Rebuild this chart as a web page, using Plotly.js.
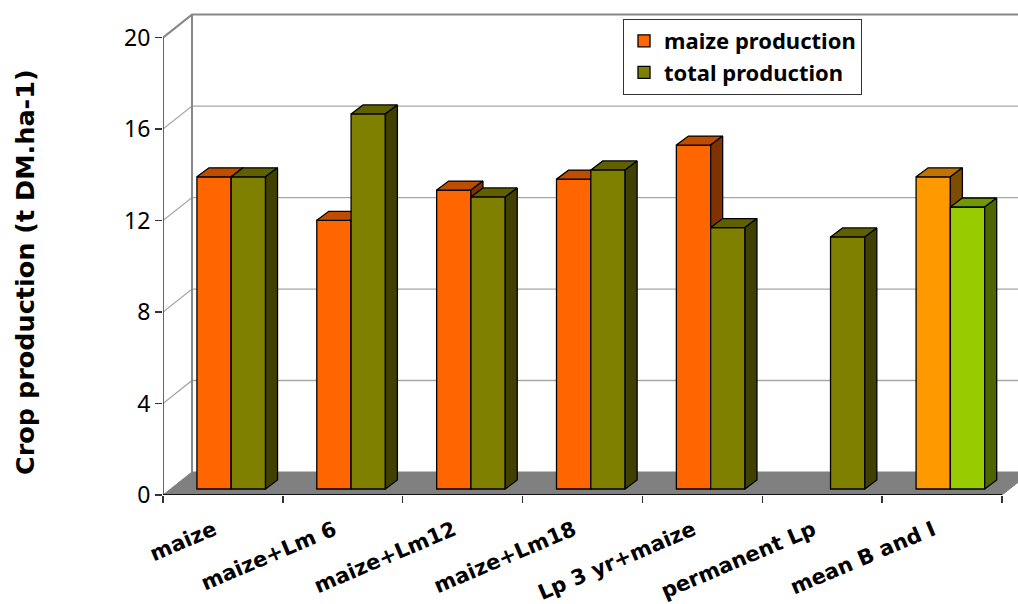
<!DOCTYPE html>
<html><head><meta charset="utf-8">
<script src="https://cdn.plot.ly/plotly-3.0.1.min.js"></script>
<style>html,body{margin:0;padding:0;background:#fff}#c{width:1018px;height:604px}</style>
</head><body><div id="c"></div>
<script>
const categories = ["maize","maize+Lm 6","maize+Lm12","maize+Lm18","Lp 3 yr+maize","permanent Lp","mean B and I"];
const maizeProduction = [13.65,11.75,13.07,13.55,15.04,null,13.65];
const totalProduction = [13.65,16.4,12.77,13.95,11.43,11.02,12.33];
const yTicks = [0,4,8,12,16,20];

const maizeFront = ["#FF6600","#FF6600","#FF6600","#FF6600","#FF6600","#FF6600","#FF9900"];
const maizeTop   = ["#BF4D00","#BF4D00","#BF4D00","#BF4D00","#BF4D00","#BF4D00","#BF7300"];
const maizeSide  = ["#803300","#803300","#803300","#803300","#803300","#803300","#804D00"];
const totalFront = ["#808000","#808000","#808000","#808000","#808000","#808000","#99CC00"];
const totalTop   = ["#606000","#606000","#606000","#606000","#606000","#606000","#739900"];
const totalSide  = ["#404000","#404000","#404000","#404000","#404000","#404000","#4D6600"];

// pixel scale of the axes
const pxX = 119.86, pxY = 22.87;
const plotL = 163, plotR = 1018, plotT = 12, plotB = 495;
const xMin = -0.5, xMax = xMin + (plotR-plotL)/pxX, yMax = (plotB-plotT)/pxY;
const barW = 34.3/pxX, depX = 12/pxX, depY = 9/pxY, wallX = 29/pxX, wallY = 23/pxY;
const barShiftX = 8.3/pxX, barShiftY = 6/pxY;
const xs = categories.map((_,i)=>i);

const traces = [];
function poly(x,y,fill,line,w,extra){return Object.assign({type:"scatter",mode:"lines",x,y,fill:fill?"toself":"none",fillcolor:fill||undefined,line:{color:line,width:w},showlegend:false,hoverinfo:"skip",cliponaxis:true},extra||{});}
yTicks.slice(1).forEach(v=>{
  const top = v===20;
  traces.push(poly([xMin,xMin+wallX,6.5+wallX],[v,v+wallY,v+wallY],null,top?"#888888":"#A6A6A6",top?2:1.3));
});
traces.push(poly([xMin+wallX,xMin+wallX],[wallY,20+wallY],null,"#888888",2));
traces.push(poly([xMin,6.5,6.5+wallX,xMin+wallX,xMin],[0,0,wallY,wallY,0],"#808080","#808080",1));
traces.push(poly([xMin,xMin],[0,20],null,"#333333",1.5,{cliponaxis:false}));
traces.push(poly([xMin,6.5],[0,0],null,"#111111",2,{cliponaxis:false}));

function addBars(vals,off,front,top,side,xa,ya,name){
  traces.push({type:"bar",name,x:xs,y:vals,width:barW,offset:off,xaxis:xa,yaxis:ya,
    marker:{color:front,line:{color:"#000",width:1.3}},hoverinfo:"y",legendgroup:name});
  vals.forEach((v,i)=>{
    if(v===null) return;
    const a=i+off,b=a+barW;
    traces.push(poly([a,b,b+depX,a+depX,a],[v,v,v+depY,v+depY,v],top[i],"#000",1.3,{xaxis:xa,yaxis:ya}));
    traces.push(poly([b,b+depX,b+depX,b,b],[0,depY,v+depY,v,0],side[i],"#000",1.3,{xaxis:xa,yaxis:ya}));
  });
}
addBars(maizeProduction,-barW,maizeFront,maizeTop,maizeSide,"x2","y2","maize production");
addBars(totalProduction,0,totalFront,totalTop,totalSide,"x3","y3","total production");

const hiddenX = {range:[xMin-barShiftX,xMax-barShiftX],overlaying:"x",visible:false,fixedrange:true};
const hiddenY = {range:[-barShiftY,yMax-barShiftY],overlaying:"y",visible:false,fixedrange:true};

const layout = {
  width:1018,height:604,paper_bgcolor:"#fff",plot_bgcolor:"#fff",showlegend:true,
  margin:{l:plotL,r:1018-plotR,t:plotT,b:604-plotB,pad:0},
  font:{family:"'DejaVu Sans',sans-serif",color:"#000"},
  xaxis:{range:[xMin,xMax],tickmode:"array",tickvals:xs,ticktext:categories,tickangle:-23,ticks:"",
    showgrid:false,zeroline:false,showline:false,fixedrange:true,ticklabelstandoff:18,ticklabelshift:-9,
    tickfont:{family:"'DejaVu Sans',sans-serif",size:21,weight:700,color:"#000"},
    minor:{tickmode:"array",tickvals:[-0.5,0.5,1.5,2.5,3.5,4.5,5.5,6.5],ticks:"outside",ticklen:7,tickwidth:1.5,tickcolor:"#333",showgrid:false}},
  yaxis:{range:[0,yMax],tickmode:"array",tickvals:yTicks,ticks:"outside",ticklen:7,tickwidth:1.5,tickcolor:"#333",
    showgrid:false,zeroline:false,showline:false,fixedrange:true,
    tickfont:{family:"'Noto Sans',sans-serif",size:23,color:"#000"}},
  xaxis2:hiddenX,yaxis2:hiddenY,xaxis3:hiddenX,yaxis3:hiddenY,
  legend:{x:(623-plotL)/(plotR-plotL),xanchor:"left",y:(plotB-19)/(plotB-plotT),yanchor:"top",
    bgcolor:"#fff",bordercolor:"#333",borderwidth:1,tracegroupgap:7,
    font:{family:"'Noto Sans',sans-serif",size:22,weight:700,color:"#000"},traceorder:"normal"},
  annotations:[{text:"Crop production (t DM.ha-1)",xref:"paper",yref:"paper",
    x:(25-plotL)/(plotR-plotL),y:(plotB-272)/(plotB-plotT),xanchor:"center",yanchor:"middle",textangle:-90,showarrow:false,
    font:{family:"'DejaVu Sans',sans-serif",size:25.5,weight:700,color:"#000"}}]
};
Plotly.newPlot("c",traces,layout,{displayModeBar:false,staticPlot:true});
</script></body></html>
